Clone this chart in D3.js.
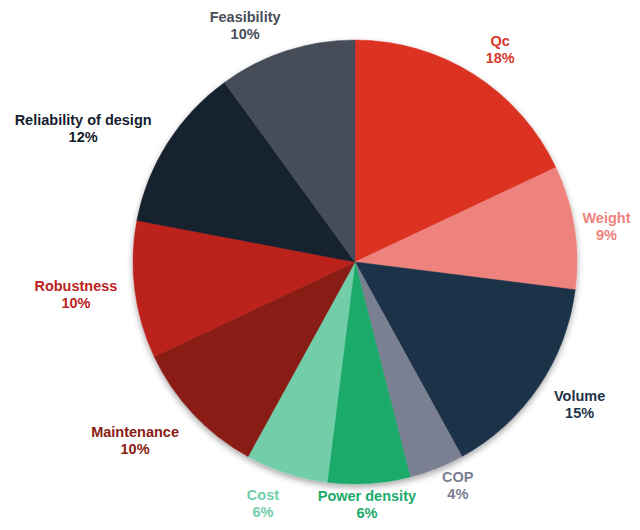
<!DOCTYPE html>
<html>
<head>
<meta charset="utf-8">
<script src="https://cdn.jsdelivr.net/npm/d3@7"></script>
<style>
  html, body { margin: 0; padding: 0; background: #ffffff; }
  svg { display: block; }
</style>
</head>
<body>
<svg id="chart" width="640" height="530"></svg>
<script>
// ---- data ----
const categories = ["Qc", "Weight", "Volume", "COP", "Power density", "Cost",
                    "Maintenance", "Robustness", "Reliability of design", "Feasibility"];
const values = [18, 9, 15, 4, 6, 6, 10, 10, 12, 10];
const percentLabels = ["18%", "9%", "15%", "4%", "6%", "6%", "10%", "10%", "12%", "10%"];

// ---- styles / layout (not data) ----
const sliceColors = ["#DC3224", "#EE827C", "#1E3249", "#7A8091", "#1BAA6B", "#72CEA9",
                     "#8A1C14", "#BC231D", "#15202E", "#474E59"];
const labelColors = ["#D8382C", "#EE827C", "#1E3249", "#7A8091", "#1BAA6B", "#72CEA9",
                     "#8A1C14", "#BC231D", "#15202E", "#474E59"];
// label placement: polar angle (deg, clockwise from top) and distance from pie centre
const labelAngleDeg = [34.4, 81.9, 122.4, 155.3, 177.2, 200.9, 231, 263.3, 296.2, 335.1];
const labelDist     = [257, 254, 266, 246, 243, 258, 283, 281, 303, 261];

const cx = 355, cy = 262, radius = 222;

const svg = d3.select("#chart");

const defs = svg.append("defs");
const filter = defs.append("filter").attr("id", "shadow")
  .attr("x", "-20%").attr("y", "-20%").attr("width", "140%").attr("height", "140%");
filter.append("feDropShadow")
  .attr("dx", 0).attr("dy", 3).attr("stdDeviation", 3)
  .attr("flood-color", "#000").attr("flood-opacity", 0.35);

const pie = d3.pie().sort(null).value(d => d)(values);
const arc = d3.arc().innerRadius(0).outerRadius(radius);

const g = svg.append("g").attr("transform", `translate(${cx},${cy})`);

g.append("g").attr("filter", "url(#shadow)")
  .selectAll("path")
  .data(pie)
  .join("path")
  .attr("d", arc)
  .attr("fill", (d, i) => sliceColors[i])
  .attr("stroke", (d, i) => sliceColors[i])
  .attr("stroke-width", 0.5);

const labels = g.append("g")
  .selectAll("text")
  .data(pie)
  .join("text")
  .attr("text-anchor", "middle")
  .attr("font-family", "'Liberation Sans', Arial, sans-serif")
  .attr("font-weight", "bold")
  .attr("font-size", "14.5px")
  .attr("fill", (d, i) => labelColors[i])
  .attr("transform", (d, i) => {
    const a = labelAngleDeg[i] * Math.PI / 180;
    const x = Math.sin(a) * labelDist[i];
    const y = -Math.cos(a) * labelDist[i];
    return `translate(${x},${y})`;
  });

labels.append("tspan")
  .attr("x", 0).attr("y", -3.5)
  .text((d, i) => categories[i]);
labels.append("tspan")
  .attr("x", 0).attr("y", 13.5)
  .text((d, i) => percentLabels[i]);
</script>
</body>
</html>
